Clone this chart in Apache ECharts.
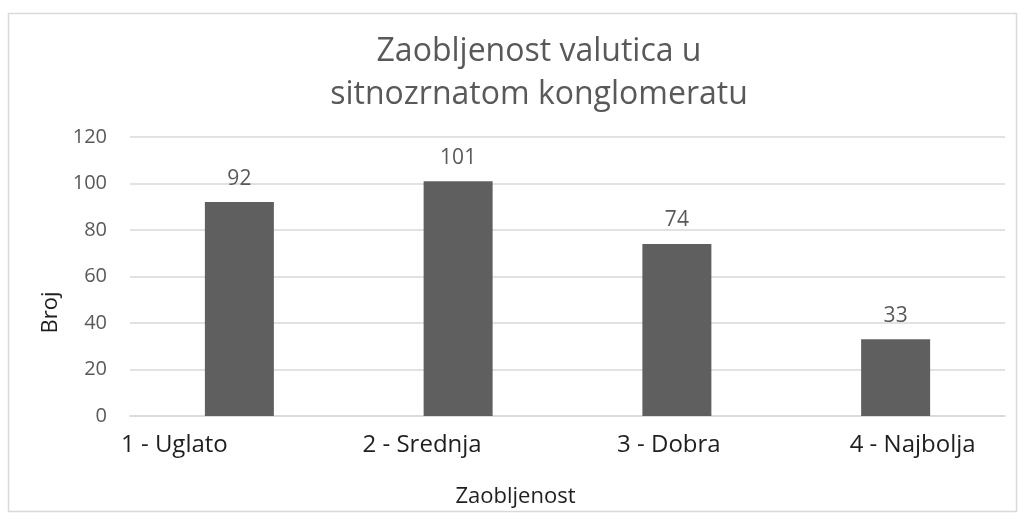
<!DOCTYPE html>
<html>
<head>
<meta charset="utf-8">
<script src="https://cdn.jsdelivr.net/npm/echarts@6/dist/echarts.min.js"></script>
<style>
  html, body { margin: 0; padding: 0; background: #fff; }
  #chart { width: 1025px; height: 520px; }
</style>
</head>
<body>
<div id="chart"></div>
<script>
// podaci s grafa
const categories = ['1 - Uglato', '2 - Srednja', '3 - Dobra', '4 - Najbolja']
const counts = [92, 101, 74, 33]
const titleLines = ['Zaobljenost valutica u', 'sitnozrnatom konglomeratu']

const font = '"Open Sans", "Noto Sans", sans-serif'
const textColor = '#595959'
const darkText = '#1f1f1f'

// u originalu natpisi kategorija nisu tocno ispod stupaca -> pomak po natpisu (px)
const labelShift = [-65, -36, -8, 17]
const labelRich = {}
labelShift.forEach((s, i) => {
  labelRich['s' + i] = {
    fontFamily: font,
    fontSize: 24,
    color: darkText,
    padding: s < 0 ? [0, -2 * s, 0, 0] : [0, 0, 0, 2 * s]
  }
})

const chart = echarts.init(document.getElementById('chart'))

chart.setOption({
  animation: false,
  textStyle: { fontFamily: font },
  graphic: [{
    type: 'rect',
    shape: { x: 8.5, y: 13.5, width: 1008, height: 498 },
    style: { fill: 'none', stroke: '#d9d9d9', lineWidth: 1.5 }
  }],
  title: {
    text: titleLines.join('\n'),
    left: 534,
    top: 25,
    textAlign: 'center',
    textStyle: {
      fontFamily: font,
      fontSize: 32,
      fontWeight: 'normal',
      color: textColor,
      lineHeight: 43
    }
  },
  grid: { left: 130, right: 20, top: 137, bottom: 104 },
  xAxis: {
    type: 'category',
    data: categories,
    name: 'Zaobljenost',
    nameLocation: 'middle',
    nameGap: 70,
    nameTextStyle: { fontFamily: font, fontSize: 22, color: darkText, padding: [0, 104, 0, 0] },
    axisLine: { show: true, lineStyle: { color: '#d9d9d9', width: 1.5 } },
    axisTick: { show: false },
    axisLabel: {
      margin: 17,
      formatter: (val, idx) => '{s' + idx + '|' + val + '}',
      rich: labelRich
    }
  },
  yAxis: {
    type: 'value',
    min: 0,
    max: 120,
    interval: 20,
    name: 'Broj',
    nameLocation: 'middle',
    nameGap: 67,
    nameRotate: 90,
    nameTextStyle: { fontFamily: font, fontSize: 22, color: darkText, padding: [0, 72, 0, 0] },
    axisLine: { show: false },
    axisTick: { show: false },
    axisLabel: { fontFamily: font, fontSize: 20, color: textColor, margin: 23 },
    splitLine: { lineStyle: { color: '#d9d9d9', width: 1.5 } }
  },
  series: [{
    type: 'bar',
    data: counts,
    barWidth: 69,
    itemStyle: { color: '#5f5f5f' },
    label: {
      show: true,
      position: 'top',
      distance: 13,
      fontFamily: font,
      fontSize: 21,
      color: textColor
    }
  }]
})
</script>
</body>
</html>
